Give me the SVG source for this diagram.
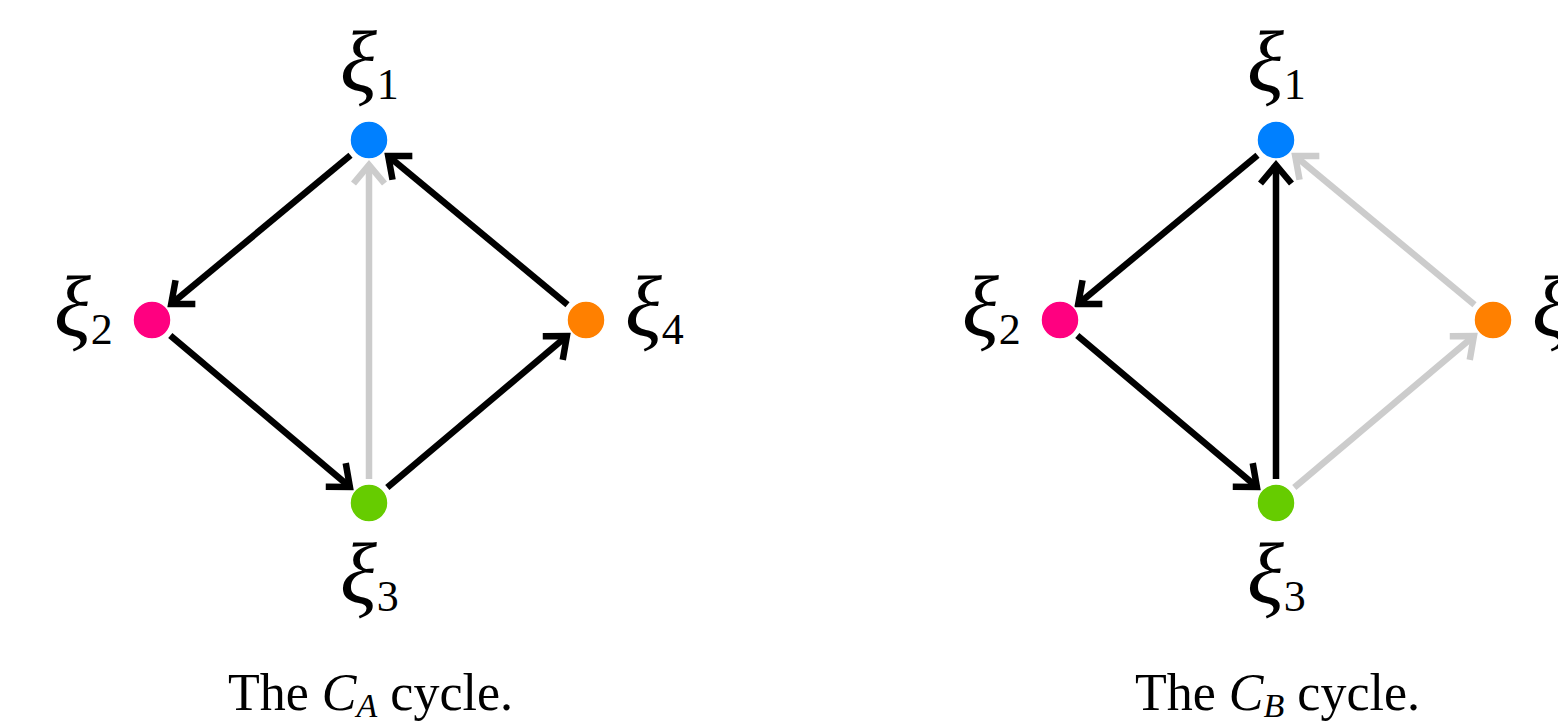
<svg xmlns="http://www.w3.org/2000/svg" width="1558" height="722" viewBox="0 0 1558 722">
<style>
.e{fill:none;stroke-width:6.5;stroke-linecap:butt}
.k{stroke:#000}
.g{stroke:#cccccc}
.n{stroke:#fff;stroke-width:1.5}
.lab{font-family:"Liberation Serif",serif;font-size:86px;fill:#000}
.lab .x{font-style:italic}
.lab .s{font-size:44px}
.cap{font-family:"Liberation Serif",serif;font-size:52px;fill:#000}
</style>
<defs>
<marker id="ak" markerUnits="userSpaceOnUse" orient="auto" markerWidth="40" markerHeight="40" refX="0" refY="0" viewBox="-25 -20 30 40" overflow="visible">
<path d="M -18.5 -15.5 L 0 0 L -18.5 15.5" fill="none" stroke="#000" stroke-width="6.5"/>
</marker>
<marker id="ag" markerUnits="userSpaceOnUse" orient="auto" markerWidth="40" markerHeight="40" refX="0" refY="0" viewBox="-25 -20 30 40" overflow="visible">
<path d="M -18.5 -15.5 L 0 0 L -18.5 15.5" fill="none" stroke="#cccccc" stroke-width="6.5"/>
</marker>
</defs>
<rect width="1558" height="722" fill="#fff"/>

<g id="connectors">
<g id="connectors-A">
<line class="e g" x1="369" y1="479" x2="369" y2="165" marker-end="url(#ag)"/>
<line class="e k" x1="350.5" y1="155.3" x2="171.2" y2="304" marker-end="url(#ak)"/>
<line class="e k" x1="170.3" y1="335.5" x2="349.9" y2="486.9" marker-end="url(#ak)"/>
<line class="e k" x1="387.3" y1="487.5" x2="566.9" y2="336.1" marker-end="url(#ak)"/>
<line class="e k" x1="567.5" y1="304.7" x2="388.2" y2="156" marker-end="url(#ak)"/>
</g>
<g id="connectors-B" transform="translate(907,0)">
<line class="e g" x1="387.3" y1="487.5" x2="566.9" y2="336.1" marker-end="url(#ag)"/>
<line class="e g" x1="567.5" y1="304.7" x2="388.2" y2="156" marker-end="url(#ag)"/>
<line class="e k" x1="369" y1="479" x2="369" y2="165" marker-end="url(#ak)"/>
<line class="e k" x1="350.5" y1="155.3" x2="171.2" y2="304" marker-end="url(#ak)"/>
<line class="e k" x1="170.3" y1="335.5" x2="349.9" y2="486.9" marker-end="url(#ak)"/>
</g>
</g>

<g id="diagram-A">
<g id="A-xi1"><circle class="n" cx="369" cy="140" r="19" fill="#0080ff"/>
<text class="lab" x="340" y="91"><tspan class="x">ξ</tspan><tspan class="s" dy="8">1</tspan></text></g>
<g id="A-xi2"><circle class="n" cx="152" cy="320" r="19" fill="#ff0080"/>
<text class="lab" x="54" y="336"><tspan class="x">ξ</tspan><tspan class="s" dy="8">2</tspan></text></g>
<g id="A-xi3"><circle class="n" cx="369" cy="503" r="19" fill="#66cc00"/>
<text class="lab" x="340" y="603"><tspan class="x">ξ</tspan><tspan class="s" dy="8">3</tspan></text></g>
<g id="A-xi4"><circle class="n" cx="586" cy="320" r="19" fill="#ff8000"/>
<text class="lab" x="625" y="336"><tspan class="x">ξ</tspan><tspan class="s" dy="8">4</tspan></text></g>
<g id="A-caption"><text class="cap" x="228" y="710">The <tspan font-style="italic">C</tspan><tspan font-style="italic" font-size="34" dy="7">A</tspan><tspan dy="-7"> cycle.</tspan></text></g>
</g>

<g id="diagram-B" transform="translate(907,0)">
<g id="B-xi1"><circle class="n" cx="369" cy="140" r="19" fill="#0080ff"/>
<text class="lab" x="340" y="91"><tspan class="x">ξ</tspan><tspan class="s" dy="8">1</tspan></text></g>
<g id="B-xi2"><circle class="n" cx="153" cy="320" r="19" fill="#ff0080"/>
<text class="lab" x="55" y="336"><tspan class="x">ξ</tspan><tspan class="s" dy="8">2</tspan></text></g>
<g id="B-xi3"><circle class="n" cx="369" cy="503" r="19" fill="#66cc00"/>
<text class="lab" x="340" y="603"><tspan class="x">ξ</tspan><tspan class="s" dy="8">3</tspan></text></g>
<g id="B-xi4"><circle class="n" cx="586" cy="320" r="19" fill="#ff8000"/>
<text class="lab" x="625" y="336"><tspan class="x">ξ</tspan><tspan class="s" dy="8">4</tspan></text></g>
<g id="B-caption"><text class="cap" x="228" y="710">The <tspan font-style="italic">C</tspan><tspan font-style="italic" font-size="34" dy="7">B</tspan><tspan dy="-7"> cycle.</tspan></text></g>
</g>
</svg>
